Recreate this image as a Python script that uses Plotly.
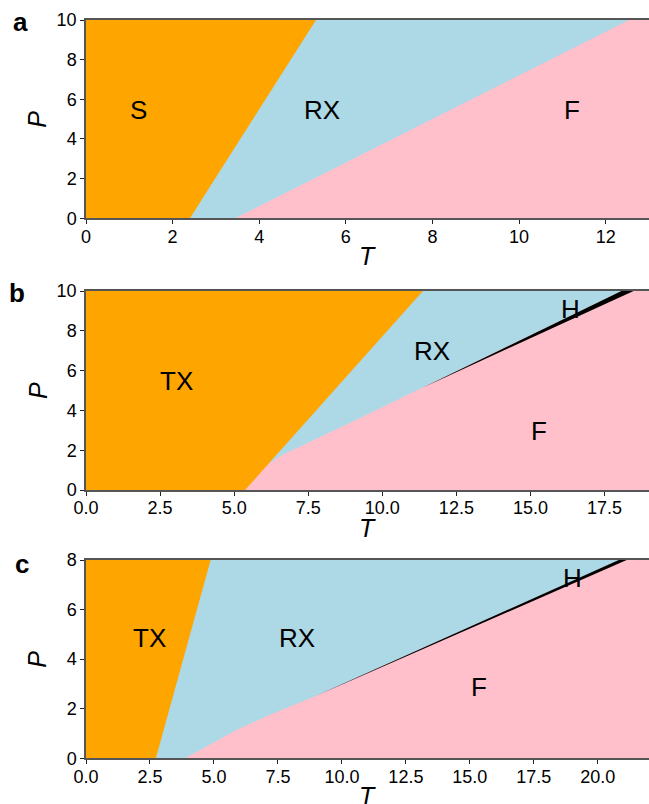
import plotly.graph_objects as go

# ---------------- data ----------------
# Panel a
a_T_max, a_P_max = 13, 10
a_S_RX_T = [2.40, 5.31]          # S / RX boundary
a_S_RX_P = [0, 10]
a_RX_F_T = [3.44, 12.54]         # RX / F boundary
a_RX_F_P = [0, 10]

# Panel b
b_T_max, b_P_max = 19, 10
b_TX_T = [5.37, 11.37]           # TX boundary
b_TX_P = [0, 10]
b_F_T = [5.37, 6.00, 6.62, 8.90, 11.34, 18.48]   # upper edge of F
b_F_P = [0, 1.17, 1.76, 3.37, 5.13, 10]
b_H_T = [11.34, 18.07]           # upper edge of H
b_H_P = [5.13, 10]

# Panel c
c_T_max, c_P_max = 22, 8
c_TX_T = [2.73, 4.87]
c_TX_P = [0, 8]
c_F_T = [3.86, 4.57, 5.88, 7.17, 8.47, 8.93, 21.13]
c_F_P = [0, 0.40, 1.14, 1.75, 2.28, 2.49, 8]
c_H_T = [8.93, 20.82]
c_H_P = [2.49, 8]

# region labels: (text, T, P)
a_labels = [("S", 1.21, 5.46), ("RX", 5.45, 5.46), ("F", 11.22, 5.46)]
b_labels = [("TX", 3.07, 5.49), ("RX", 11.66, 7.0), ("H", 16.35, 9.1), ("F", 15.28, 2.96)]
c_labels = [("TX", 2.48, 4.86), ("RX", 8.23, 4.86), ("H", 19.0, 7.29), ("F", 15.35, 2.86)]

# ---------------- style ----------------
ORANGE = "#FFA500"
BLUE = "#ADD8E6"
PINK = "#FFC0CB"
BLACK = "#000000"
FONT = "Liberation Sans, Arial, Helvetica, sans-serif"
W, H = 649, 804
L_MARGIN = 86
PLOT_W = W - L_MARGIN

# panel pixel extents (top, bottom)
panels_px = {"a": (20, 218.3), "b": (291, 490), "c": (560, 758.3)}

fig = go.Figure()


def poly(T, P, color, ax):
    fig.add_trace(go.Scatter(
        x=T, y=P, mode="lines", fill="toself", fillcolor=color,
        line=dict(width=0, color=color), hoverinfo="skip", showlegend=False,
        xaxis=ax[0], yaxis=ax[1]))


# Panel a (axes x, y)
axa = ("x", "y")
poly([0, a_T_max, a_T_max, 0], [0, 0, a_P_max, a_P_max], PINK, axa)
poly([0] + a_RX_F_T + [0], [0] + a_RX_F_P + [a_P_max], BLUE, axa)
poly([0] + a_S_RX_T + [0], [0] + a_S_RX_P + [a_P_max], ORANGE, axa)

# Panel b (axes x2, y2)
axb = ("x2", "y2")
k = b_F_T.index(b_H_T[0])
poly([0, b_T_max, b_T_max, 0], [0, 0, b_P_max, b_P_max], PINK, axb)
poly([0] + b_F_T[:k + 1] + b_H_T[1:] + [0],
     [0] + b_F_P[:k + 1] + b_H_P[1:] + [b_P_max], BLUE, axb)
poly(b_H_T + [b_F_T[-1]], b_H_P + [b_F_P[-1]], BLACK, axb)
poly([0] + b_TX_T + [0], [0] + b_TX_P + [b_P_max], ORANGE, axb)

# Panel c (axes x3, y3)
axc = ("x3", "y3")
k = c_F_T.index(c_H_T[0])
poly([0, c_T_max, c_T_max, 0], [0, 0, c_P_max, c_P_max], PINK, axc)
poly([0] + c_F_T[:k + 1] + c_H_T[1:] + [0],
     [0] + c_F_P[:k + 1] + c_H_P[1:] + [c_P_max], BLUE, axc)
poly(c_H_T + [c_F_T[-1]], c_H_P + [c_F_P[-1]], BLACK, axc)
poly([0] + c_TX_T + [0], [0] + c_TX_P + [c_P_max], ORANGE, axc)


def dom(top, bot):
    return [1 - bot / H, 1 - top / H]


axis_common = dict(showline=True, mirror=True, linecolor="#555555", linewidth=1.5,
                   ticks="outside", ticklen=4, tickwidth=1.2, tickcolor="#222222",
                   showgrid=False, zeroline=False, automargin=False,
                   tickfont=dict(family=FONT, size=18, color="black"))
x_common = dict(axis_common, ticklabelstandoff=-3)

fig.update_layout(
    width=W, height=H,
    margin=dict(l=L_MARGIN, r=0, t=0, b=0, autoexpand=False),
    paper_bgcolor="white", plot_bgcolor="white",
    showlegend=False,
    xaxis=dict(domain=[0, 1], anchor="y", range=[0, a_T_max], tick0=0, dtick=2, **x_common),
    yaxis=dict(domain=dom(*panels_px["a"]), anchor="x", range=[0, a_P_max], tick0=0, dtick=2, **axis_common),
    xaxis2=dict(domain=[0, 1], anchor="y2", range=[0, b_T_max], tick0=0, dtick=2.5, tickformat=".1f", **x_common),
    yaxis2=dict(domain=dom(*panels_px["b"]), anchor="x2", range=[0, b_P_max], tick0=0, dtick=2, **axis_common),
    xaxis3=dict(domain=[0, 1], anchor="y3", range=[0, c_T_max], tick0=0, dtick=2.5, tickformat=".1f", **x_common),
    yaxis3=dict(domain=dom(*panels_px["c"]), anchor="x3", range=[0, c_P_max], tick0=0, dtick=2, **axis_common),
)

ann = []
for labels, xr, yr in [(a_labels, "x", "y"), (b_labels, "x2", "y2"), (c_labels, "x3", "y3")]:
    for txt, t, p in labels:
        ann.append(dict(text=txt, x=t, y=p, xref=xr, yref=yr, showarrow=False,
                        xanchor="center", yanchor="middle",
                        font=dict(family=FONT, size=26, color="black")))

# axis titles and panel letters
for key, (top, bot) in panels_px.items():
    mid = (top + bot) / 2
    ann.append(dict(text="<i>P</i>", x=(37.5 - L_MARGIN) / PLOT_W, y=1 - mid / H,
                    xref="paper", yref="paper", showarrow=False, textangle=-90,
                    xanchor="center", yanchor="middle",
                    font=dict(family=FONT, size=25, color="black")))
    ann.append(dict(text="<i>T</i>", x=0.5, y=1 - (bot + 37.5) / H,
                    xref="paper", yref="paper", showarrow=False,
                    xanchor="center", yanchor="middle",
                    font=dict(family=FONT, size=25, color="black")))

letter_pos = {"a": (12, 22), "b": (7.5, 292.6), "c": (13.7, 564)}
for key, (lx, ly) in letter_pos.items():
    ann.append(dict(text="<b>%s</b>" % key, x=(lx - 1 - L_MARGIN) / PLOT_W, y=1 - ly / H,
                    xref="paper", yref="paper", showarrow=False,
                    xanchor="left", yanchor="middle",
                    font=dict(family=FONT, size=26, color="black")))

fig.update_layout(annotations=ann)
fig.write_html("out.html")
